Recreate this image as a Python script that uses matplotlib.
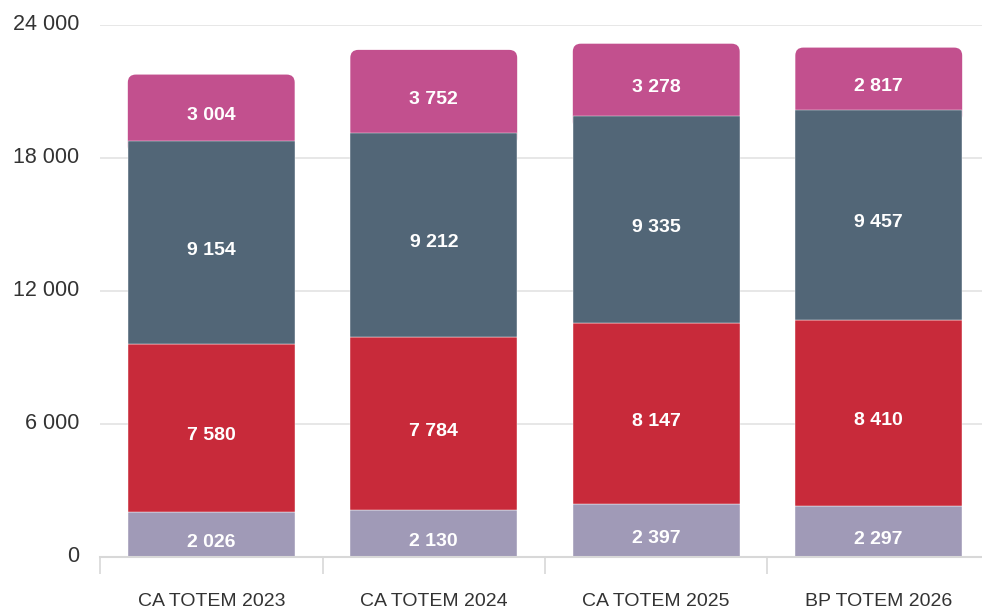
import matplotlib.pyplot as plt
import matplotlib.transforms as mtransforms
from matplotlib.patches import FancyBboxPatch
import numpy as np

categories = ["CA TOTEM 2023", "CA TOTEM 2024", "CA TOTEM 2025", "BP TOTEM 2026"]
s_bottom = [2026, 2130, 2397, 2297]
s_red = [7580, 7784, 8147, 8410]
s_slate = [9154, 9212, 9335, 9457]
s_pink = [3004, 3752, 3278, 2817]
y_ticks = [0, 6000, 12000, 18000, 24000]

colors = ["#a09ab7", "#c82a3a", "#526677", "#c2508e"]


def fmt(v):
    return "{:,}".format(v).replace(",", " ")


plt.rcParams['font.family'] = ['Liberation Sans', 'DejaVu Sans']

fig = plt.figure(figsize=(9.82, 6.09), dpi=100)
ax = fig.add_axes([100 / 982, 52 / 609, 890 / 982, 532 / 609])

x = np.arange(len(categories))
width = 0.75

# top segment: rounded box that tucks a bit under the slate segment
below = np.array(s_bottom) + np.array(s_red) + np.array(s_slate)
for i in range(len(categories)):
    box = FancyBboxPatch((x[i] - width / 2, below[i] - 600), width, s_pink[i] + 600,
                         boxstyle="round,pad=0,rounding_size=0.036",
                         mutation_aspect=10000,
                         facecolor=colors[3], edgecolor="none", zorder=2)
    ax.add_patch(box)

base = np.zeros(len(categories))
for vals, col in zip([s_bottom, s_red, s_slate], colors[:3]):
    ax.bar(x, vals, width, bottom=base, color=col, edgecolor="#ffffff",
           linewidth=0.3, zorder=3)
    base = base + np.array(vals)

base = np.zeros(len(categories))
for vals in [s_bottom, s_red, s_slate, s_pink]:
    for i, v in enumerate(vals):
        ax.annotate(fmt(v), (x[i], base[i] + v / 2), xytext=(0, -5.5),
                    textcoords="offset points", ha="center", va="center",
                    color="white", fontsize=14, fontweight="bold", zorder=5)
    base = base + np.array(vals)

ax.set_xlim(-0.5, 3.5)
ax.set_ylim(0, 24000)
ax.set_yticks(y_ticks)
ax.set_yticklabels([fmt(v) for v in y_ticks])
ax.tick_params(axis="y", length=0, pad=15, labelsize=15.5, labelcolor="#333333")

ax.set_xticks(x)
ax.set_xticklabels(categories)
ax.set_xticks(np.arange(-0.5, 4, 1), minor=True)
ax.tick_params(axis="x", which="major", length=0, pad=26, labelsize=14, labelcolor="#333333")
ax.tick_params(axis="x", which="minor", length=12, width=1.2, color="#d8d8d8")

ax.grid(axis="y", color="#e3e3e3", linewidth=1.2, zorder=0)
ax.set_axisbelow(True)
for s in ["top", "right", "left"]:
    ax.spines[s].set_visible(False)
ax.spines["bottom"].set_color("#d8d8d8")
ax.spines["bottom"].set_linewidth(1.5)
ax.spines["bottom"].set_zorder(4)

# y labels sit a little above their grid lines
shift = mtransforms.ScaledTranslation(0, 2.5 / 72, fig.dpi_scale_trans)
for lbl in ax.get_yticklabels():
    lbl.set_transform(lbl.get_transform() + shift)

fig.savefig("out.png", dpi=100)
